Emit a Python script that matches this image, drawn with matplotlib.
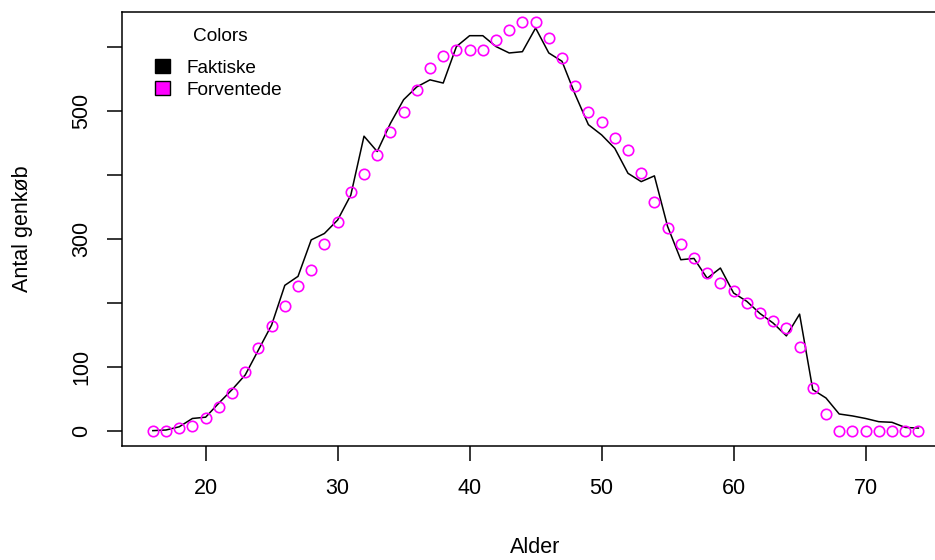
import numpy as np
import matplotlib
matplotlib.use("Agg")
import matplotlib.pyplot as plt
from matplotlib.patches import Patch

# ages 16..74
alder = list(range(16, 75))

faktiske = [0, 1, 6, 19, 21, 43, 64, 87, 126, 165,
            227, 241, 298, 308, 329, 368, 460, 436, 480, 517,
            537, 548, 543, 600, 617, 617, 600, 590, 592, 629,
            590, 577, 525, 478, 462, 441, 402, 389, 398, 319,
            267, 269, 238, 254, 215, 202, 183, 168, 148, 182,
            64, 51, 26, 23, 19, 14, 13, 5, 4]

forventede = [0, 0, 4, 7, 19, 37, 59, 91, 129, 164,
              195, 226, 251, 291, 326, 373, 401, 430, 466, 497,
              532, 566, 585, 595, 595, 595, 610, 626, 638, 638,
              613, 582, 539, 498, 482, 457, 439, 403, 357, 316,
              291, 269, 247, 231, 218, 200, 184, 172, 160, 131,
              66, 26, 0, 0, 0, 0, 0, 0, 0]

x_ticks = [20, 30, 40, 50, 60, 70]
y_ticks = [0, 100, 200, 300, 400, 500, 600]
y_ticklabels = ['0', '100', '', '300', '', '500', '']

plt.rcParams['font.family'] = ['Liberation Sans', 'DejaVu Sans']

W, H = 935, 560
fig = plt.figure(figsize=(W / 100, H / 100), dpi=100)
left, right, top, bottom = 122.2, 949.0, 12.0, 446.0
ax = fig.add_axes([left / W, 1 - bottom / H, (right - left) / W, (bottom - top) / H])

ax.plot(alder, faktiske, color='black', lw=1.1)
ax.plot(alder, forventede, linestyle='none', marker='o', markersize=7.5,
        markerfacecolor='none', markeredgecolor='#FF00FF', markeredgewidth=1.2)

ax.set_xlim(13.68, 76.32)
ax.set_ylim(-24, 654)
ax.set_xticks(x_ticks)
ax.set_yticks(y_ticks)
ax.set_yticklabels(y_ticklabels)

for s in ax.spines.values():
    s.set_linewidth(1.1)
ax.tick_params(direction='out', length=10.8, width=1.1, labelsize=15.5, color='black')
ax.tick_params(axis='x', pad=12.5)
ax.tick_params(axis='y', pad=11.0)
for lab in ax.get_yticklabels():
    lab.set_rotation(90)
    lab.set_verticalalignment('center')

ax.set_xlabel('Alder', fontsize=15.5)
ax.xaxis.set_label_coords(0.5, -(547.5 - bottom) / (bottom - top))
ax.xaxis.label.set_verticalalignment('center')
ax.set_ylabel('Antal genkøb', fontsize=15.5)
ax.yaxis.set_label_coords(-(left - 22.7) / (right - left), 0.5)
ax.yaxis.label.set_verticalalignment('center')

# legend (title drawn separately to get R's spacing)
handles = [Patch(facecolor='black', edgecolor='black'),
           Patch(facecolor='#FF00FF', edgecolor='black')]
leg = ax.legend(handles, ['Faktiske', 'Forventede'],
                loc='upper left', bbox_to_anchor=(155 / W, 1 - 59 / H),
                bbox_transform=fig.transFigure, frameon=False,
                fontsize=13.7, borderpad=0, borderaxespad=0,
                handlelength=0.8, handleheight=0.74, handletextpad=0.88,
                labelspacing=0.26)
fig.text(220 / W, 1 - 36.7 / H, 'Colors', fontsize=13.7, ha='center', va='center')

fig.savefig('out.png', dpi=100)
